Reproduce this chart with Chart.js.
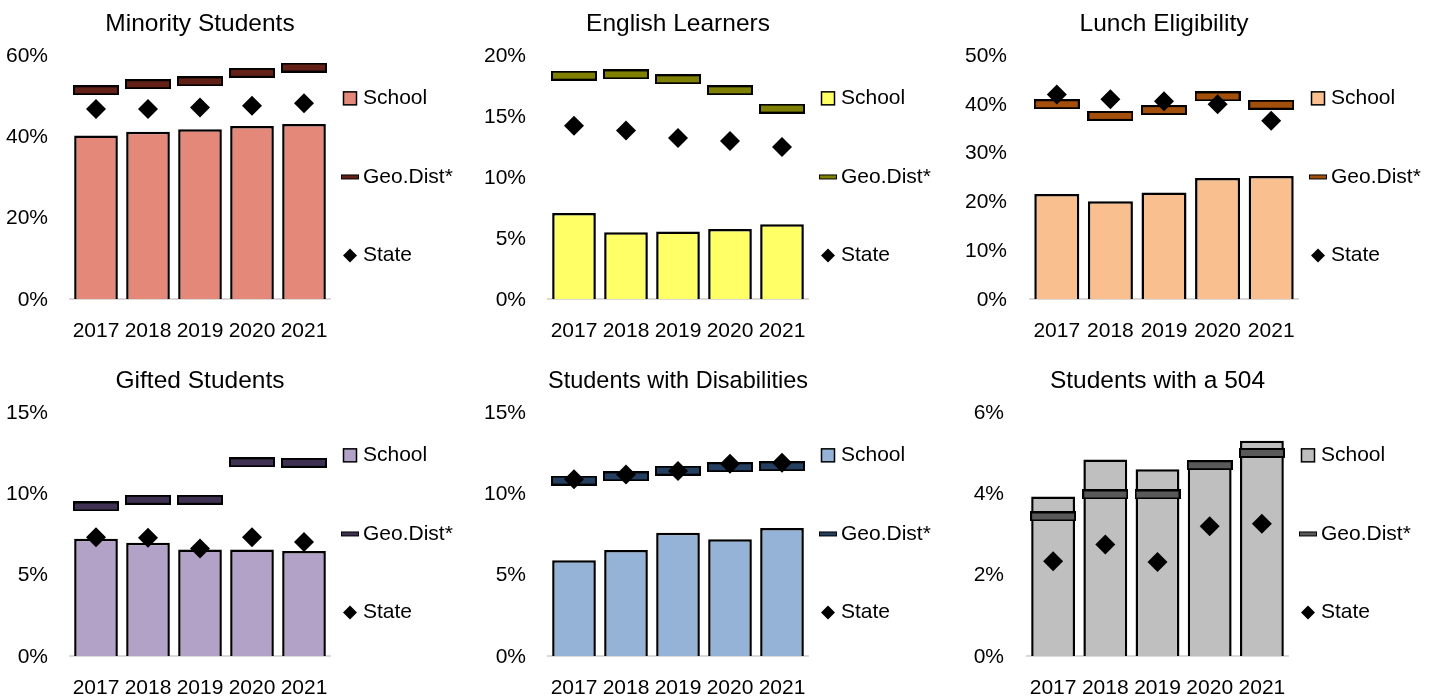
<!DOCTYPE html>
<html>
<head>
<meta charset="utf-8">
<title>Student demographics</title>
<script src="https://cdn.jsdelivr.net/npm/chart.js@4.4.1/dist/chart.umd.min.js"></script>
<style>
  html, body { margin: 0; padding: 0; background: #fff; }
  body { width: 1435px; height: 698px; position: relative; overflow: hidden; }
  canvas { position: absolute; }
</style>
</head>
<body>
<canvas id="c0" width="478" height="349" style="left:0;top:0"></canvas>
<canvas id="c1" width="478" height="349" style="left:480px;top:0"></canvas>
<canvas id="c2" width="475" height="349" style="left:960px;top:0"></canvas>
<canvas id="c3" width="478" height="349" style="left:0;top:357px"></canvas>
<canvas id="c4" width="478" height="349" style="left:480px;top:357px"></canvas>
<canvas id="c5" width="475" height="349" style="left:960px;top:357px"></canvas>

<script>
/* ---------- data ---------- */
var YEARS = ["2017", "2018", "2019", "2020", "2021"];
var SERIES_NAMES = ["School", "Geo.Dist*", "State"];

var MINORITY_SCHOOL = [40.2, 41.1, 41.7, 42.5, 43.0];
var MINORITY_GEO    = [51.3, 52.8, 53.5, 55.6, 56.9];
var MINORITY_STATE  = [46.7, 46.7, 47.1, 47.5, 48.1];

var EL_SCHOOL = [7.05, 5.46, 5.54, 5.73, 6.12];
var EL_GEO    = [18.3, 18.4, 18.0, 17.1, 15.6];
var EL_STATE  = [14.2, 13.8, 13.2, 12.95, 12.45];

var LUNCH_SCHOOL = [21.5, 20.0, 21.8, 24.8, 25.2];
var LUNCH_GEO    = [39.9, 37.5, 38.7, 41.5, 39.8];
var LUNCH_STATE  = [41.9, 40.9, 40.5, 39.9, 36.5];

var GIFTED_SCHOOL = [7.21, 6.96, 6.55, 6.55, 6.45];
var GIFTED_GEO    = [9.19, 9.6, 9.6, 11.9, 11.87];
var GIFTED_STATE  = [7.29, 7.27, 6.6, 7.29, 7.0];

var SWD_SCHOOL = [5.88, 6.52, 7.58, 7.17, 7.87];
var SWD_GEO    = [10.78, 11.04, 11.39, 11.6, 11.66];
var SWD_STATE  = [10.86, 11.16, 11.37, 11.82, 11.88];

var S504_SCHOOL = [3.92, 4.83, 4.59, 4.80, 5.29];
var S504_GEO    = [3.43, 3.97, 3.97, 4.69, 4.99];
var S504_STATE  = [2.33, 2.74, 2.31, 3.19, 3.25];

var TITLES = ["Minority Students", "English Learners", "Lunch Eligibility",
              "Gifted Students", "Students with Disabilities", "Students with a 504"];
var Y_MAX  = [60, 20, 50, 15, 15, 6];
var Y_STEP = [20, 5, 10, 5, 5, 2];

/* ---------- styles ---------- */
var FONT = '"Liberation Sans", Arial, sans-serif';
var TEXT_SIZE = 21;

Chart.defaults.font.family = FONT;
Chart.defaults.font.size = TEXT_SIZE;
Chart.defaults.color = "#000";

function geoMarker(color, w, h, b) {
  var c = document.createElement("canvas");
  c.width = w; c.height = h;
  var g = c.getContext("2d");
  g.fillStyle = "#000";
  g.fillRect(0, 0, w, h);
  g.fillStyle = color;
  g.fillRect(b, b, w - 2 * b, h - 2 * b);
  return c;
}

/* legend drawn to the right of the plot */
var sideLegend = {
  id: "sideLegend",
  afterDraw: function (chart, args, opts) {
    var ctx = chart.ctx;
    var a = chart.chartArea;
    var cx = a.right + opts.offset;
    var ys = [a.top + a.height * 0.178, a.top + a.height * 0.5, a.top + a.height * 0.822];
    ctx.save();
    // School box
    ctx.fillStyle = opts.bar;
    ctx.fillRect(cx - 6.5, ys[0] - 6.5, 13, 13);
    ctx.lineWidth = 1.5;
    ctx.strokeStyle = "#000";
    ctx.strokeRect(cx - 6.5, ys[0] - 6.5, 13, 13);
    // Geo dash
    ctx.fillStyle = "#000";
    ctx.fillRect(cx - 9, ys[1] - 2.5, 18, 5);
    ctx.fillStyle = opts.geo;
    ctx.fillRect(cx - 8, ys[1] - 1.5, 16, 3);
    // State diamond
    ctx.fillStyle = "#000";
    ctx.beginPath();
    ctx.moveTo(cx, ys[2] - 7);
    ctx.lineTo(cx + 7, ys[2]);
    ctx.lineTo(cx, ys[2] + 7);
    ctx.lineTo(cx - 7, ys[2]);
    ctx.closePath();
    ctx.fill();
    // labels
    ctx.font = TEXT_SIZE + "px " + FONT;
    ctx.textBaseline = "middle";
    ctx.textAlign = "left";
    ctx.fillStyle = "#000";
    for (var i = 0; i < 3; i++) {
      ctx.fillText(SERIES_NAMES[i], cx + 13, ys[i]);
    }
    ctx.restore();
  }
};

function makeChart(idx, cfg) {
  new Chart(document.getElementById("c" + idx), {
    type: "bar",
    data: {
      labels: YEARS,
      datasets: [
        {
          label: SERIES_NAMES[0],
          data: cfg.school,
          backgroundColor: cfg.bar,
          borderColor: "#000",
          borderWidth: 2.5,
          barPercentage: 0.84,
          categoryPercentage: 1,
          order: 3
        },
        {
          type: "line",
          label: SERIES_NAMES[1],
          data: cfg.geo,
          showLine: false,
          pointStyle: geoMarker(cfg.geoColor, 46, 10, 2),
          pointRadius: 5,
          order: 2
        },
        {
          type: "line",
          label: SERIES_NAMES[2],
          data: cfg.state,
          showLine: false,
          pointStyle: "rectRot",
          pointRadius: 10,
          pointBackgroundColor: "#000",
          pointBorderColor: "#000",
          pointBorderWidth: 0,
          order: 1
        }
      ]
    },
    options: {
      responsive: false,
      animation: false,
      layout: { padding: { left: 0, right: cfg.width - cfg.right, top: 0, bottom: 0 } },
      plugins: {
        legend: { display: false },
        tooltip: { enabled: false },
        title: {
          display: true,
          text: TITLES[idx],
          fullSize: false,
          color: "#000",
          font: { family: FONT, size: 24.5, weight: "normal" },
          padding: { top: 9.5, bottom: 16 }
        },
        sideLegend: { offset: 20, bar: cfg.bar, geo: cfg.geoColor }
      },
      scales: {
        x: {
          grid: { display: false, drawTicks: false },
          border: { display: true, color: "#d9d9d9", width: 2 },
          ticks: { padding: 20, color: "#000", maxRotation: 0, minRotation: 0, autoSkip: false },
          afterFit: function (s) { s.height = 50; }
        },
        y: {
          min: 0,
          max: Y_MAX[idx],
          grid: { display: false, drawTicks: false },
          border: { display: false },
          ticks: {
            stepSize: Y_STEP[idx],
            padding: cfg.tickPad,
            labelOffset: 1,
            color: "#000",
            callback: function (v) { return v + "%"; }
          },
          afterFit: function (s) { s.width = cfg.left; }
        }
      }
    },
    plugins: [sideLegend]
  });
}

makeChart(0, { school: MINORITY_SCHOOL, geo: MINORITY_GEO, state: MINORITY_STATE,
  bar: "#E4887A", geoColor: "#632016", width: 478, left: 70, right: 330, tickPad: 22 });
makeChart(1, { school: EL_SCHOOL, geo: EL_GEO, state: EL_STATE,
  bar: "#FFFF66", geoColor: "#808000", width: 478, left: 68, right: 328, tickPad: 22 });
makeChart(2, { school: LUNCH_SCHOOL, geo: LUNCH_GEO, state: LUNCH_STATE,
  bar: "#F9BF8F", geoColor: "#A14F0B", width: 475, left: 70, right: 338, tickPad: 23 });
makeChart(3, { school: GIFTED_SCHOOL, geo: GIFTED_GEO, state: GIFTED_STATE,
  bar: "#B3A2C7", geoColor: "#3F3151", width: 478, left: 70, right: 330, tickPad: 22 });
makeChart(4, { school: SWD_SCHOOL, geo: SWD_GEO, state: SWD_STATE,
  bar: "#95B3D7", geoColor: "#243F60", width: 478, left: 68, right: 328, tickPad: 22 });
makeChart(5, { school: S504_SCHOOL, geo: S504_GEO, state: S504_STATE,
  bar: "#BFBFBF", geoColor: "#595959", width: 475, left: 67, right: 328, tickPad: 23 });
</script>
</body>
</html>
